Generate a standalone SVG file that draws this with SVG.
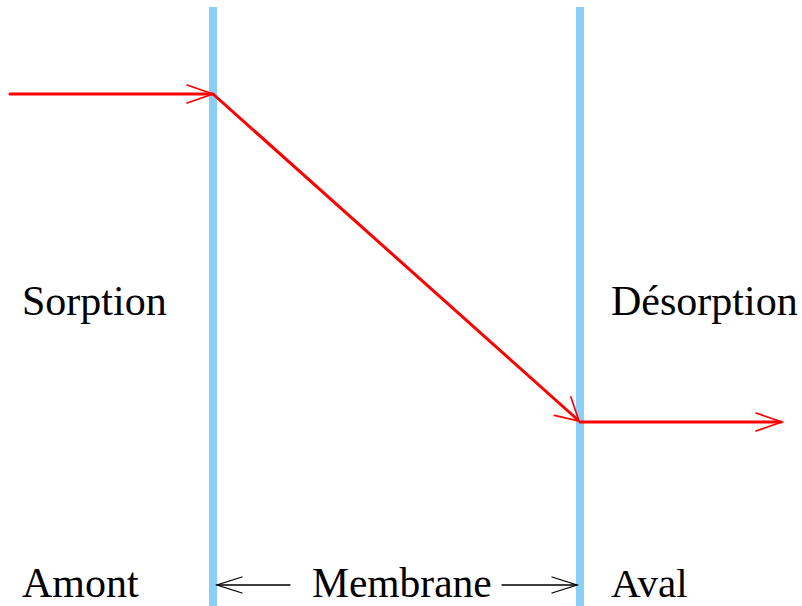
<svg xmlns="http://www.w3.org/2000/svg" width="802" height="606" viewBox="0 0 802 606">
<rect width="802" height="606" fill="#fff"/>
<g id="membrane-walls" stroke="#89CFF7" stroke-width="8" fill="none">
<line x1="213" y1="7" x2="213" y2="606"/>
<line x1="580" y1="7" x2="580" y2="606"/>
</g>
<g id="connectors" fill="none" stroke-linecap="round">
<g stroke="#FF0000" stroke-width="3">
<line x1="10" y1="94" x2="212" y2="94"/>
<line x1="213" y1="94" x2="578" y2="420"/>
<line x1="580" y1="422" x2="781" y2="422"/>
</g>
<g stroke="#FF0000" stroke-width="1.7">
<polyline points="187,85 213,94 187,103"/>
<polyline points="570.9,396.9 579,421 554.4,415.4"/>
<polyline points="756,413 782,422 756,431"/>
</g>
<g stroke="#000" stroke-width="1.3">
<line x1="217" y1="585" x2="290" y2="585"/>
<polyline points="242,577 217,585 242,593"/>
<line x1="502" y1="585" x2="577" y2="585"/>
<polyline points="552,577 577,585 552,593"/>
</g>
</g>
<text id="label-sorption" x="22" y="315" font-size="42" font-family="Liberation Serif">Sorption</text>
<text id="label-desorption" x="611" y="315" font-size="42" font-family="Liberation Serif">Désorption</text>
<text id="label-amont" x="22" y="597" font-size="42" font-family="Liberation Serif">Amont</text>
<text id="label-membrane" x="312" y="597" font-size="41.5" font-family="Liberation Serif">Membrane</text>
<text id="label-aval" x="611" y="597" font-size="41" font-family="Liberation Serif">Aval</text>
</svg>
